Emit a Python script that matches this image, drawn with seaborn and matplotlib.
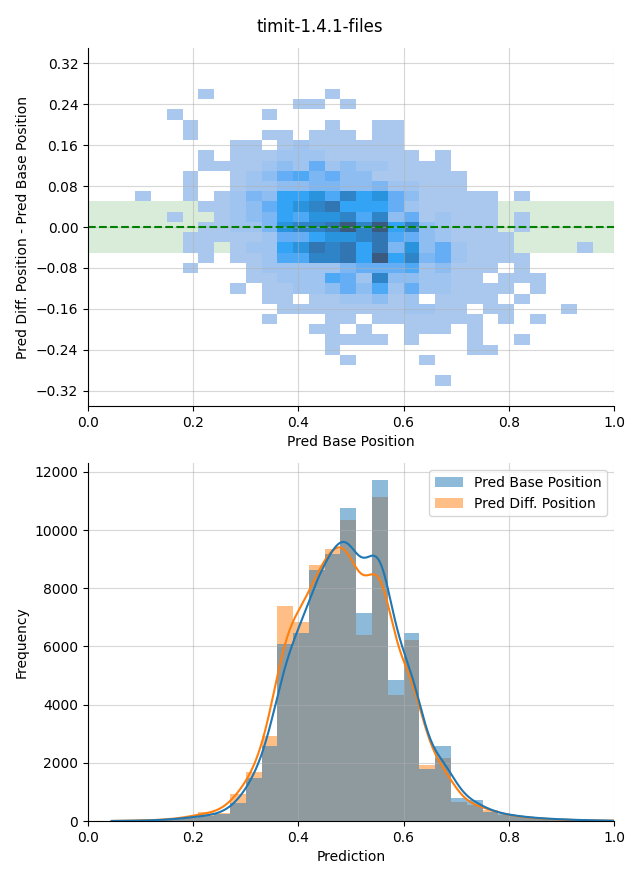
import numpy as np
import pandas as pd
import matplotlib
matplotlib.use("Agg")
import matplotlib.pyplot as plt
import seaborn as sns
from matplotlib.colors import LinearSegmentedColormap

TITLE = "timit-1.4.1-files"

# ---------------- top panel: 2D histogram (intensity levels) ----------------
HEAT_X_EDGES = np.round(np.arange(0, 34) * 0.03, 4)           # 33 columns, 0.00 .. 0.99
HEAT_Y_CENTERS = [round(0.26 - 0.02 * i, 2) for i in range(29)]  # 0.26 .. -0.30
HEAT_Y_EDGES = np.round(np.arange(-0.31, 0.2701, 0.02), 4)
# one string per row (top to bottom), one char per column; '.' = empty, 1..9,a,b = level
HEAT_ROWS = [
    ".......1.......1.................",   # 0.26
    ".............11.1................",   # 0.24
    ".....1.....1.....................",   # 0.22
    "......1........1..11.............",   # 0.20
    "......1....11.111.11.............",   # 0.18
    ".........11.12111111.............",   # 0.16
    ".......1.111222111111.1..........",   # 0.14
    ".......1111232523221111..........",   # 0.12
    "......1..123564533111111.........",   # 0.10
    "......1..122334433422111.........",   # 0.08
    "...1..1.124377869785311111.1.....",   # 0.06
    ".......11235789a7775211111.......",   # 0.04
    ".....1..123476889693512111.1.....",   # 0.02
    ".......11224899ab9b7932111.1.....",   # 0.00
    "......111112557889a65321111......",   # -0.02
    "......11.12278a9a7a48352111....1.",   # -0.04
    ".......1.1126699a7b794521111.....",   # -0.06
    "......1...1222224555623111.1.....",   # -0.08
    "..........112226529332211.111....",   # -0.10
    ".........1.1122353625221111.1....",   # -0.12
    "...........11.1122312.1111.1.....",   # -0.14
    "............111111112211.11...1..",   # -0.16
    "...........1...11.1111111.1.1....",   # -0.18
    "..............11.1..111.1........",   # -0.20
    "...............1111.1...1..1.....",   # -0.22
    "...............1........11.......",   # -0.24
    "................1....1...........",   # -0.26
    ".................................",   # -0.28
    "......................1..........",   # -0.30
]
LEVEL_COLORS = ["#aac8ee", "#a0c4f0", "#8ebdf2", "#7db7f3", "#65aef5", "#4ea8f6",
                "#33a3f5", "#2a93de", "#2e84c6", "#3276b4", "#3b5a80"]
Y_TICKS = [-0.32, -0.24, -0.16, -0.08, 0.0, 0.08, 0.16, 0.24, 0.32]
BAND = (-0.05, 0.05)

# ---------------- bottom panel: histogram counts per bin ----------------
BIN_WIDTH = 0.03
BIN_EDGES = np.round(np.arange(1, 35) * BIN_WIDTH, 4)          # 0.03 .. 1.02
BASE_COUNTS = [1, 10, 15, 30, 65, 120, 190, 240, 610, 1490, 2590, 6070, 6480, 8620,
               9170, 10760, 7160, 11720, 4860, 6450, 1790, 2590, 790, 720, 320, 230,
               150, 100, 70, 45, 30, 20, 8]
DIFF_COUNTS = [1, 10, 20, 35, 75, 145, 300, 285, 930, 1680, 2930, 7390, 6850, 8790,
               9340, 10340, 6390, 11140, 4340, 6210, 1930, 2180, 670, 560, 380, 200,
               140, 90, 60, 40, 25, 15, 6]
SERIES_NAMES = ["Pred Base Position", "Pred Diff. Position"]

# ---------------- build ----------------
x_centers = (HEAT_X_EDGES[:-1] + HEAT_X_EDGES[1:]) / 2
hx, hy, hw = [], [], []
for yc, row in zip(HEAT_Y_CENTERS, HEAT_ROWS):
    assert len(row) == 33, (yc, len(row))
    for k, ch in enumerate(row):
        if ch != ".":
            hx.append(x_centers[k]); hy.append(yc); hw.append(int(ch, 16))


def expand(counts):
    pts = []
    for left, c in zip(BIN_EDGES[:-1], counts):
        pts.append(left + (np.arange(c) + 0.5) / c * BIN_WIDTH)
    return np.concatenate(pts)


df = pd.DataFrame({SERIES_NAMES[0]: pd.Series(expand(BASE_COUNTS)),
                   SERIES_NAMES[1]: pd.Series(expand(DIFF_COUNTS))})

fig = plt.figure(figsize=(6.4, 8.8), dpi=100)
ax1 = fig.add_axes([0.1375, 0.5386, 0.8219, 0.4068])
ax2 = fig.add_axes([0.1375, 0.0670, 0.8219, 0.4068])

cmap = LinearSegmentedColormap.from_list("lvl", LEVEL_COLORS)
ax1.axhspan(BAND[0], BAND[1], color="green", alpha=0.15, lw=0)
sns.histplot(x=hx, y=hy, weights=hw, bins=[HEAT_X_EDGES, HEAT_Y_EDGES],
             cmap=cmap, vmin=1, vmax=11, ax=ax1)
ax1.axhline(0, color="green", linestyle="--", lw=1.5)
ax1.set_xlim(0, 1)
ax1.set_ylim(-0.35, 0.35)
ax1.set_yticks(Y_TICKS)
ax1.grid(True, alpha=0.5)
ax1.set_xlabel("Pred Base Position")
ax1.set_ylabel("Pred Diff. Position - Pred Base Position")
sns.despine(ax=ax1)

sns.histplot(data=df, bins=BIN_EDGES, kde=True, linewidth=0,
             kde_kws={"bw_adjust": 2.2}, ax=ax2)
ax2.set_xlim(0, 1)
ax2.grid(True, alpha=0.5)
ax2.set_xlabel("Prediction")
ax2.set_ylabel("Frequency")
sns.move_legend(ax2, "upper right")
sns.despine(ax=ax2)

fig.suptitle(TITLE, fontsize=12)
fig.savefig("out.png", dpi=100)
